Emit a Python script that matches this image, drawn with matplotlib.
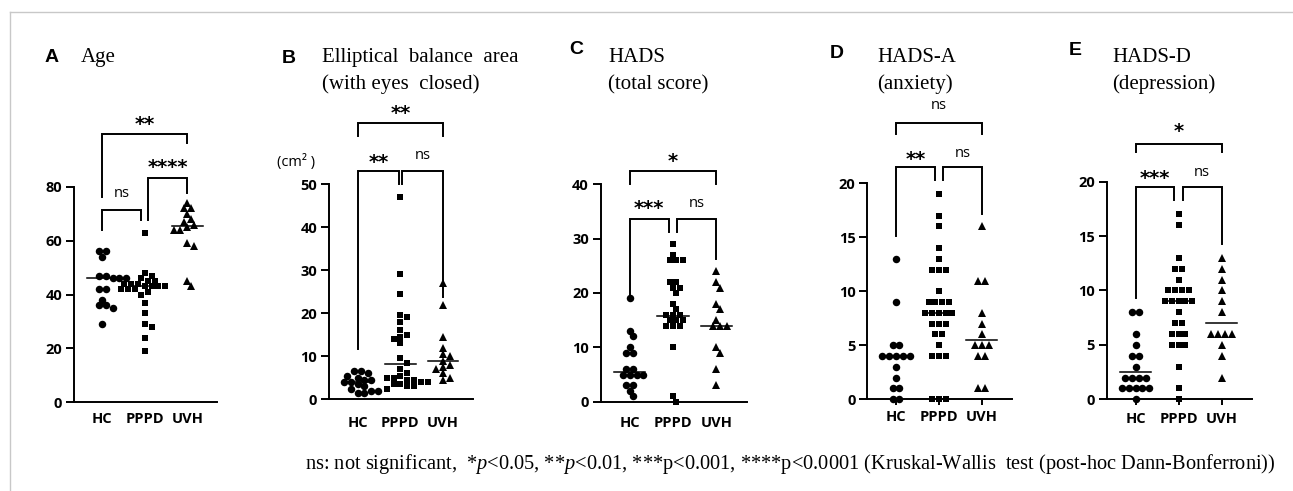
import numpy as np
import matplotlib
matplotlib.use("Agg")
import matplotlib.pyplot as plt
from matplotlib.lines import Line2D

plt.rcParams['mathtext.fontset'] = 'custom'
plt.rcParams['mathtext.rm'] = 'Liberation Serif'
plt.rcParams['mathtext.it'] = 'Liberation Serif:italic'

# ---- data ----
groups = ['HC', 'PPPD', 'UVH']

age_hc = [56, 56, 54, 47, 47, 46, 46, 46, 42, 42, 38, 36, 36, 35, 29]
age_pppd = [63, 48, 47, 46, 45, 45, 44, 44, 44, 43, 43, 43, 43, 42, 42, 42,
            41, 40, 37, 33, 29, 28, 24, 19]
age_uvh = [74, 72, 72, 70, 68, 67, 66, 65, 64, 64, 59, 58, 45, 43]
age_med = [46, 43, 65.5]

eba_hc = [6.5, 6.5, 6, 5.5, 5, 4.5, 4.5, 4, 4, 3.5, 3, 2.5, 2, 2, 1.5, 1.5]
eba_pppd = [47, 29, 24.5, 19.5, 19, 18, 16, 15, 14.5, 14, 13, 9.5, 8.5, 7, 6,
            5.5, 5, 5, 4.5, 4.5, 4, 4, 3.5, 3.5, 3, 3, 2.5]
eba_uvh = [27, 22, 14.5, 12, 10.5, 10, 9, 8, 7.5, 7, 6, 5, 4.5]
eba_med = [4, 8.3, 8.9]

hads_hc = [19, 13, 12, 10, 9, 9, 6, 6, 5, 5, 5, 5, 3, 3, 2, 1]
hads_pppd = [29, 27, 26, 26, 26, 22, 22, 21, 21, 20, 18, 17, 16, 16, 16, 15,
             15, 15, 14, 14, 14, 10, 1, 0]
hads_uvh = [24, 22, 21, 18, 17, 15, 14, 14, 14, 10, 9, 6, 3]
hads_med = [5.5, 15.8, 14]

hadsa_hc = [13, 9, 5, 5, 4, 4, 4, 4, 4, 3, 2, 1, 1, 0, 0]
hadsa_pppd = [19, 17, 16, 14, 13, 12, 12, 12, 10, 9, 9, 9, 9, 8, 8, 8, 8, 8,
              7, 7, 7, 6, 6, 5, 4, 4, 4, 0, 0, 0]
hadsa_uvh = [16, 11, 11, 8, 7, 6, 5, 5, 5, 4, 4, 1, 1]
hadsa_med = [4, 8, 5.5]

hadsd_hc = [8, 8, 6, 5, 4, 4, 3, 2, 2, 2, 2, 1, 1, 1, 1, 1, 0]
hadsd_pppd = [17, 16, 13, 12, 12, 11, 10, 10, 10, 10, 9, 9, 9, 9, 9, 8, 7, 7,
              6, 6, 6, 5, 5, 5, 3, 1, 0]
hadsd_uvh = [13, 12, 11, 10, 9, 8, 6, 6, 6, 6, 5, 4, 2]
hadsd_med = [2.5, 9, 7]

letters = ['A', 'B', 'C', 'D', 'E']
titles = [['Age'],
          ['Elliptical  balance  area', '(with eyes  closed)'],
          ['HADS', '(total score)'],
          ['HADS-A', '(anxiety)'],
          ['HADS-D', '(depression)']]
yticks = [[0, 20, 40, 60, 80], [0, 10, 20, 30, 40, 50], [0, 10, 20, 30, 40],
          [0, 5, 10, 15, 20], [0, 5, 10, 15, 20]]
# brackets: x1, x2, top, left end, right end, label, label y
brackets = [
    [(0, 2, 99.7, 76.3, 96.4, '**', 105.7), (1.07, 2, 83.3, 67.7, 77.8, '****', 89.7),
     (0, 0.9, 71.4, 64, 67.7, 'ns', 77.8)],
    [(0, 2, 64.2, 61.1, 61.1, '**', 67.9), (0, 0.97, 53.1, 11.6, 50.1, '**', 56.5),
     (1.03, 2, 53.1, 50.1, 23.8, 'ns', 56.7)],
    [(0, 2, 42.5, 40, 40, '*', 45.4), (0, 0.9, 33.6, 19.3, 31.3, '***', 36.6),
     (1.1, 2, 33.6, 31.3, 26.2, 'ns', 36.6)],
    [(0, 2, 25.6, 24.6, 24.6, 'ns', 27.2), (0, 0.9, 21.5, 15.1, 20.3, '**', 22.8),
     (1.1, 2, 21.5, 20.3, 17.2, 'ns', 22.8)],
    [(0, 2, 23.5, 22.7, 22.7, '*', 25.2), (0, 0.9, 19.5, 9.3, 18.3, '***', 20.9),
     (1.1, 2, 19.5, 18.3, 14.3, 'ns', 20.9)],
]
footer = (r"ns: not significant,  *$p$<0.05, **$p$<0.01, ***p<0.001, "
          r"****p<0.0001 (Kruskal-Wallis  test (post-hoc Dann-Bonferroni))")

panels = [
    [age_hc, age_pppd, age_uvh],
    [eba_hc, eba_pppd, eba_uvh],
    [hads_hc, hads_pppd, hads_uvh],
    [hadsa_hc, hadsa_pppd, hadsa_uvh],
    [hadsd_hc, hadsd_pppd, hadsd_uvh],
]
medians = [age_med, eba_med, hads_med, hadsa_med, hadsd_med]

# ---- layout (pixels) ----
W, H = 1293, 491
boxes = [(74, 217, 402, 187), (329, 473, 399.3, 184), (600.7, 746.7, 401.7, 184.3),
         (867.3, 1011.7, 399.3, 183.3), (1106.7, 1251.7, 399.3, 181.7)]
letter_pos = [(45, 62), (282, 63), (569, 54), (830, 58), (1069, 55)]
title_x = [81, 322, 608, 877, 1112]
xpads = [7, 12, 10, 4, 5]
xtick_len = [0, 0, 0, 4, 4]
markers = ['o', 's', '^']
msizes = [5.4, 5.0, 5.6]


def swarm(vals, xs_px, ys_px, step_px, hit_px):
    # rows of equal values are centred, then shifted sideways until they
    # no longer overlap the points already placed (pixel units)
    uniq = sorted(set(vals), reverse=True)
    px, py, outx, outy = [], [], [], []
    for v in uniq:
        n = vals.count(v)
        row = np.array([(i - (n - 1) / 2) * step_px for i in range(n)])
        y = v * ys_px
        for s in range(0, 40):
            c = ((s + 1) // 2) * 0.5 * step_px * (1 if s % 2 else -1)
            cand = row + c
            ok = True
            for qx, qy in zip(px, py):
                if abs(qy - y) < hit_px and np.any(np.hypot(cand - qx, qy - y) < hit_px):
                    ok = False
                    break
            if ok:
                break
        for cx in cand:
            px.append(cx)
            py.append(y)
            outx.append(cx / xs_px)
            outy.append(v)
    return np.array(outx), np.array(outy)


fig = plt.figure(figsize=(W / 100, H / 100), dpi=100)

# light frame
fig.add_artist(Line2D([10 / W, 10 / W], [0, 1 - 12 / H], color='#c8c8c8', lw=1))
fig.add_artist(Line2D([10 / W, 1], [1 - 12 / H, 1 - 12 / H], color='#c8c8c8', lw=1))

for k in range(5):
    l, r, b, t = boxes[k]
    ax = fig.add_axes([l / W, 1 - b / H, (r - l) / W, (b - t) / H])
    ymax = yticks[k][-1]
    ax.set_xlim(-0.67, 2.7)
    ax.set_ylim(0, ymax)
    ys_px = (b - t) / ymax
    xs_px = (r - l) / 3.37
    for g in range(3):
        xs, ys = swarm(list(panels[k][g]), xs_px, ys_px, 6.8, 5.5)
        ax.plot(g + xs, ys, ls='none', marker=markers[g], ms=msizes[g],
                color='black', mew=0, clip_on=False, zorder=3)
        ax.plot([g - 0.36, g + 0.36], [medians[k][g]] * 2, color='black', lw=1.1,
                zorder=2, clip_on=False)
    for sp in ['top', 'right']:
        ax.spines[sp].set_visible(False)
    for sp in ['left', 'bottom']:
        ax.spines[sp].set_linewidth(1.4)
    ax.set_yticks(yticks[k])
    ax.set_xticks(range(3))
    ax.set_xticklabels(groups)
    ax.tick_params(axis='y', length=6, width=1.4, pad=2.5)
    ax.tick_params(axis='x', length=xtick_len[k], width=1.4, pad=xpads[k])
    for lab in ax.get_xticklabels() + ax.get_yticklabels():
        lab.set_fontfamily('Open Sans')
        lab.set_fontweight('bold')
        lab.set_fontsize(10.5)

    for (x1, x2, top, e1, e2, lab, ly) in brackets[k]:
        ax.plot([x1, x1, x2, x2], [e1, top, top, e2], color='black', lw=1.4,
                clip_on=False, solid_joinstyle='miter')
        if lab == 'ns':
            ax.annotate(lab, ((x1 + x2) / 2, ly), xytext=(0, -0.27 * 10.5),
                        textcoords='offset points', ha='center', va='baseline',
                        fontsize=10.5, family='Open Sans', annotation_clip=False)
        else:
            ax.annotate(lab, ((x1 + x2) / 2, ly), xytext=(0, -0.6 * 14),
                        textcoords='offset points', ha='center', va='baseline',
                        fontsize=14, family='DejaVu Sans', fontweight='bold',
                        annotation_clip=False)

    lx, lyy = letter_pos[k]
    fig.text(lx / W, 1 - lyy / H, letters[k], family='Liberation Sans',
             fontweight='bold', fontsize=14, ha='left', va='baseline')
    for i, line in enumerate(titles[k]):
        fig.text(title_x[k] / W, 1 - (62 + 27 * i) / H, line,
                 family='Liberation Serif', fontsize=15, ha='left', va='baseline')

fig.text(277 / W, 1 - 166 / H, '(cm² )', family='Open Sans', fontsize=10.5,
         ha='left', va='baseline')

fig.text(305 / W, 1 - 469 / H, footer, family='Liberation Serif', fontsize=14.7,
         ha='left', va='baseline')

fig.savefig('out.png', dpi=100)
